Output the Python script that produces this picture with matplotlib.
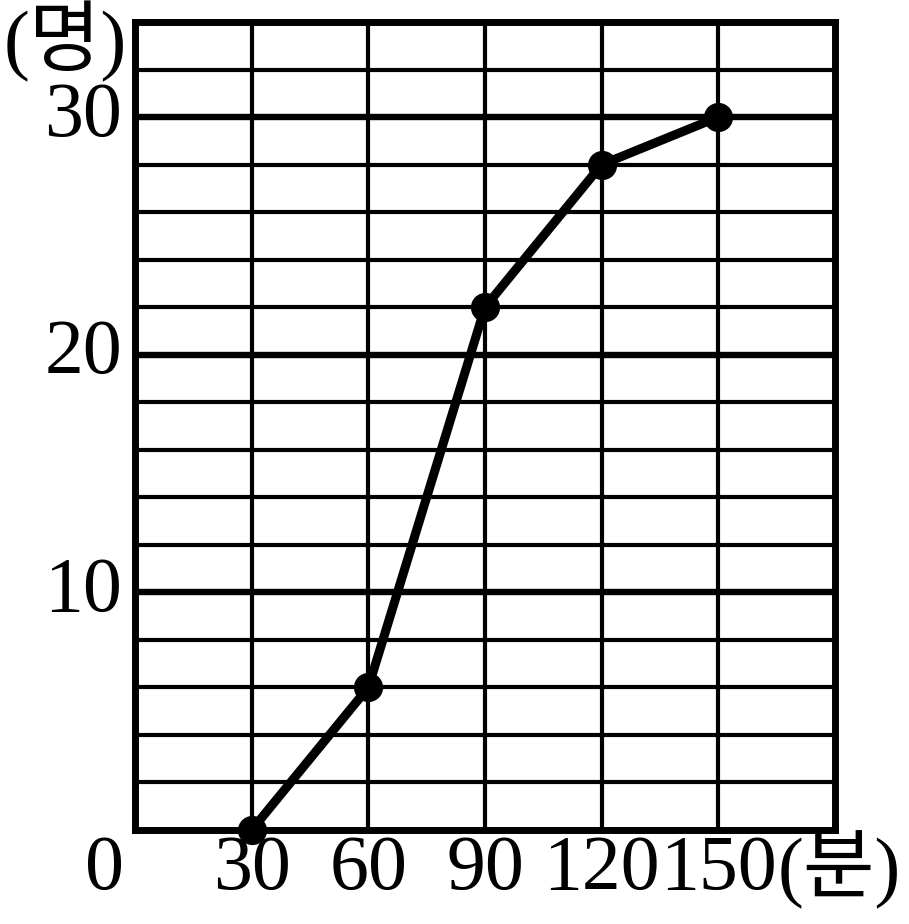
import matplotlib.pyplot as plt
import matplotlib.transforms as mtransforms

# cumulative count of students by time (minutes)
minutes = [30, 60, 90, 120, 150]
counts = [0, 6, 22, 28, 30]

x_ticks = [30, 60, 90, 120, 150]
y_ticks = [10, 20, 30]
x_max = 180
y_max = 34

fonts = ['Liberation Serif', 'Noto Sans CJK KR', 'DejaVu Sans']

fig = plt.figure(figsize=(9.09, 9.24), dpi=100)
ax = fig.add_axes([135 / 909, 94 / 924, 700 / 909, 808 / 924])

# grid lines
for gx in range(30, x_max, 30):
    ax.axvline(gx, color='black', lw=3.0, zorder=1)
for gy in range(2, y_max, 2):
    ax.axhline(gy, color='black', lw=4.6 if gy % 10 == 0 else 3.0, zorder=1)

ax.plot(minutes, counts, color='black', lw=6.5, marker='o', markersize=20,
        zorder=3, clip_on=False, solid_capstyle='round')

ax.set_xlim(0, x_max)
ax.set_ylim(0, y_max)
for s in ax.spines.values():
    s.set_linewidth(5)
    s.set_zorder(2)
ax.set_xticks([])
ax.set_yticks([])

fs = 56
# x labels: data x, figure-pixel y
xt = mtransforms.blended_transform_factory(ax.transData, fig.dpi_scale_trans)
for t in x_ticks:
    ax.text(t, 54 / 100, str(t), ha='center', va='center', fontsize=fs,
            family=fonts, transform=xt)
pix = fig.dpi_scale_trans
ax.text(105 / 100, 54 / 100, '0', ha='center', va='center', fontsize=fs,
        family=fonts, transform=pix)
ax.text(778 / 100, 54 / 100, '(분)', ha='left', va='center', fontsize=fs,
        family=fonts, transform=pix)

yt = mtransforms.blended_transform_factory(fig.dpi_scale_trans, ax.transData)
for t in y_ticks:
    ax.text(122 / 100, t, str(t), ha='right', va='center', fontsize=fs,
            family=fonts, transform=yt)
ax.text(65 / 100, (924 - 42) / 100, '(명)', ha='center', va='center',
        fontsize=fs, family=fonts, transform=pix)

fig.savefig('out.png', dpi=100)
